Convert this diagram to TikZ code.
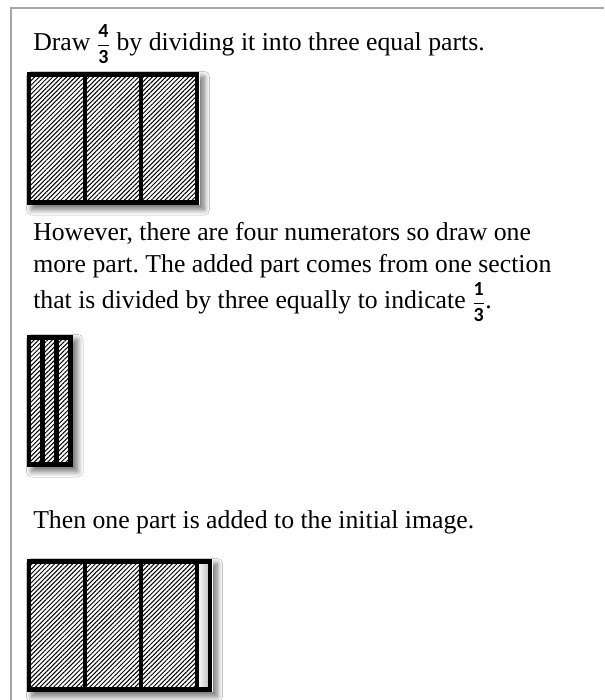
\documentclass[tikz,border=0pt]{standalone}
\usepackage{amsmath}
\usepackage{fontspec}
\setmainfont{Liberation Serif}
\newfontfamily\fracfont{Carlito}
\usetikzlibrary{patterns.meta,shadows.blur}
\frenchspacing

% small stacked fraction with sans digits
\newcommand{\smallfrac}[2]{{\fontsize{15}{15}\selectfont$\genfrac{}{}{1pt}{0}{\hbox{\fracfont\bfseries #1}}{\hbox{\fracfont\bfseries #2}}$}}

\begin{document}
\begin{tikzpicture}[x=0.75pt, y=-0.75pt,
    txt/.style={anchor=base west, inner sep=0pt, font=\fontsize{19.3}{19.3}\selectfont},
    backing/.style={fill=white, blur shadow={shadow xshift=3.5pt, shadow yshift=-3.5pt, shadow blur steps=10, shadow blur radius=4pt, shadow opacity=55}},
    cell/.style={draw, line width=3.7pt, pattern={Lines[angle=45, distance=2.4pt, line width=0.75pt]}},
    strip/.style={draw, line width=3.7pt, left color=white, right color=gray!55}
]
    \useasboundingbox[fill=white] (0,0) rectangle (604,700);

    % Frame
    \draw[gray!70, line width=1pt] (11,700) -- (11,8) -- (604,8);

    % Texts
    \node[txt] (draw) at (33,50) {Draw \smallfrac{4}{3} by dividing it into three equal parts.};
    \node[txt] (however) at (33,240) {However, there are four numerators so draw one};
    \node[txt] (more) at (33,272) {more part. The added part comes from one section};
    \node[txt] (that) at (33,308) {that is divided by three equally to indicate \smallfrac{1}{3}.};
    \node[txt] (then) at (33,528) {Then one part is added to the initial image.};

    % Three thirds
    \path[backing] (27,72) rectangle (199.5,205);
    \foreach \i in {0,1,2}
        \draw[cell] ({29+56*\i},74.5) rectangle ({85+56*\i},202.5);

    % One third cut in three
    \path[backing] (27,335) rectangle (73,467);
    \foreach \i in {0,1,2}
        \draw[cell] ({29+13.8*\i},337.5) rectangle ({42.8+13.8*\i},464.5);

    % Three thirds and the added part
    \path[backing] (27,559) rectangle (212.5,692);
    \draw[strip] (197,561.5) rectangle (210,689.5);
    \foreach \i in {0,1,2}
        \draw[cell] ({29+56*\i},561.5) rectangle ({85+56*\i},689.5);
\end{tikzpicture}
\end{document}
